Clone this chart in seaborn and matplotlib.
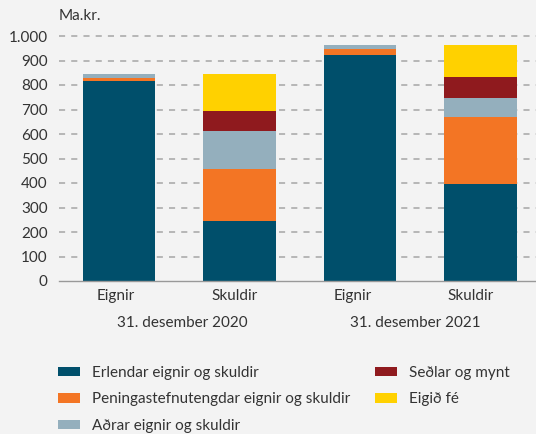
import numpy as np
import pandas as pd
import matplotlib
matplotlib.use("Agg")
import matplotlib.pyplot as plt
import matplotlib.transforms as mtransforms
from matplotlib.patches import Patch
import seaborn as sns

# Data (Ma.kr.)
bars = ["Eignir 2020", "Skuldir 2020", "Eignir 2021", "Skuldir 2021"]
bar_labels = ["Eignir", "Skuldir", "Eignir", "Skuldir"]
groups = ["31. desember 2020", "31. desember 2021"]
series = ["Erlendar eignir og skuldir", "Peningastefnutengdar eignir og skuldir",
          "Aðrar eignir og skuldir", "Seðlar og mynt", "Eigið fé"]
erlendar = [816, 245, 922, 396]
peninga = [12, 211, 25, 273]
adrar = [17, 156, 16, 78]
sedlar = [0, 81, 0, 86]
eigid_fe = [0, 152, 0, 130]
colors = ["#004f6b", "#f37524", "#94afbd", "#8f1a1e", "#ffd100"]

bg = "#f3f3f3"
sns.set_theme(style="white")
plt.rcParams["font.family"] = ["Lato", "DejaVu Sans"]
plt.rcParams["text.color"] = "#333333"

fig = plt.figure(figsize=(5.36, 4.34), dpi=100, facecolor=bg)
# axes runs slightly past the right edge of the figure, as in the original
ax = fig.add_axes([58.7 / 536, 1 - 281 / 434, 482 / 536, 245 / 434])
ax.set_facecolor(bg)

values = np.array([erlendar, peninga, adrar, sedlar, eigid_fe], dtype=float)
cum = values.cumsum(axis=0)

# draw stacked bars: tallest cumulative first, then overlay lower ones
for i in range(len(series) - 1, -1, -1):
    df = pd.DataFrame({"bar": bars, "value": cum[i]})
    sns.barplot(data=df, x="bar", y="value", color=colors[i], width=0.6,
                saturation=1, linewidth=0, ax=ax, zorder=3)

ax.set_xlim(-0.5, 3.5)
ax.set_ylim(0, 1000)
ax.set_xlabel("")
ax.set_ylabel("")

yt = np.arange(0, 1001, 100)
ax.set_yticks(yt)
ax.set_yticklabels([f"{v:,}".replace(",", ".") for v in yt], fontsize=11, color="#333333")
ax.tick_params(axis="y", length=0, pad=8)
for v in yt[1:]:
    ax.axhline(v, color="#a6a6a6", lw=1.1, ls=(0, (4, 4)), zorder=1, clip_on=False)

# category labels sit slightly left of the bar centres in the original
label_pos = np.arange(4) * 0.982 - 0.024
ax.set_xticks([-0.5, 0.5, 1.5, 2.5, 3.5])
ax.set_xticklabels([])
ax.set_xticks(label_pos, minor=True)
ax.set_xticklabels(bar_labels, minor=True, fontsize=11, color="#333333")
ax.tick_params(axis="x", which="major", length=8, width=1, color="#999999", direction="out")
ax.tick_params(axis="x", which="minor", length=0, pad=6)

for s in ["top", "right", "left"]:
    ax.spines[s].set_visible(False)
ax.spines["bottom"].set_color("#999999")
ax.spines["bottom"].set_linewidth(1)
ax.spines["bottom"].set_zorder(5)

trans = mtransforms.blended_transform_factory(ax.transData, ax.transAxes)
for xc, g in zip([0.524, 2.461], groups):
    ax.text(xc, -42 / 245, g, transform=trans, ha="center", va="center", fontsize=11)

ax.text(0.0, 1.083, "Ma.kr.", transform=ax.transAxes, ha="left", va="center", fontsize=11)

handles = [Patch(facecolor=c, edgecolor="none") for c in colors]
fig.legend(handles, series, loc="upper left", bbox_to_anchor=(50 / 536, 1 - 358 / 434),
           ncol=2, frameon=False, fontsize=11, handlelength=1.45, handleheight=0.55,
           handletextpad=0.8, columnspacing=1.6, labelspacing=0.83, borderpad=0)

fig.savefig("out.png", dpi=100, facecolor=bg)
